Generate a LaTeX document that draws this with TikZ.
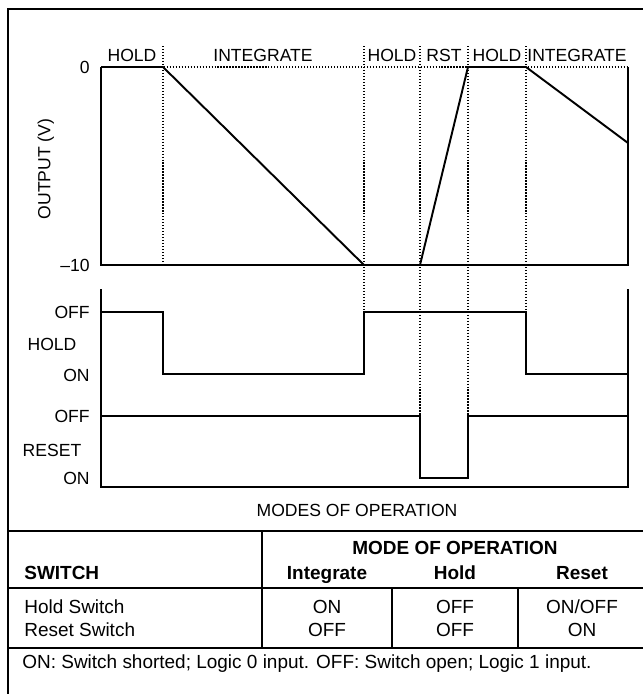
\documentclass[tikz,border=0pt]{standalone}
\usepackage{fontspec}
\setmainfont{Liberation Sans}
\usetikzlibrary{positioning}

\begin{document}
\begin{tikzpicture}[
    x=0.02cm, y=-0.02cm,
    font=\fontsize{10}{12}\selectfont,
    frame/.style={line width=1.3pt},
    axis/.style={line width=0.6pt},
    wave/.style={line width=1.1pt, line join=miter},
    guide/.style={densely dotted, line width=0.7pt},
    txt/.style={inner sep=0pt, text height=7.2pt, text depth=0pt},
    cell/.style={txt, font=\fontsize{10.8}{13}\selectfont},
    head/.style={txt, font=\fontsize{10.8}{13}\selectfont\bfseries}
]
\useasboundingbox (0,0) rectangle (643,694);

\draw[frame] (8,694) -- (8,9) -- (643,9);

\draw[guide] (101,67) -- (628,67);
\foreach \x/\ylow in {163/265, 364/312, 420/416, 468/416, 526/312}
    \draw[guide] (\x,46) -- (\x,\ylow);

\draw[axis] (101,67) -- (101,265) -- (628,265) -- (628,67);
\draw[axis] (101,289) -- (101,487) -- (628,487) -- (628,289);

\draw[wave] (101,67) -- (163,67) -- (364,265) -- (420,265) -- (468,67) -- (526,67) -- (628,143);
\draw[wave] (101,312) -- (163,312) -- (163,374) -- (364,374) -- (364,312) -- (526,312) -- (526,374) -- (628,374);
\draw[wave] (101,416) -- (420,416) -- (420,478) -- (468,478) -- (468,416) -- (628,416);

\node[txt] (hold1) at (132,55) {HOLD};
\node[txt] (integ1) at (263,55) {INTEGRATE};
\node[txt] (hold2) at (392,55) {HOLD};
\node[txt] (rst) at (444,55) {RST};
\node[txt] (hold3) at (497,55) {HOLD};
\node[txt] (integ2) at (577,55) {INTEGRATE};

\node[txt, anchor=east] (zero) at (90,67) {0};
\node[txt, anchor=east] (minten) at (90,265) {--10};
\node[txt, rotate=90] (ylabel) at (44,169) {OUTPUT (V)};

\node[txt, anchor=east] (holdoff) at (90,312) {OFF};
\node[txt] (holdname) at (52,344) {HOLD};
\node[txt, anchor=east] (holdon) at (90,375) {ON};
\node[txt, anchor=east] (rstoff) at (90,416) {OFF};
\node[txt] (rstname) at (52,450) {RESET};
\node[txt, anchor=east] (rston) at (90,478) {ON};
\node[txt] (modes) at (357,510) {MODES OF OPERATION};

\draw[frame] (8,531) -- (643,531);
\draw[axis] (8,588) -- (643,588);
\draw[frame] (8,648) -- (643,648);
\draw[axis] (262,531) -- (262,648);
\draw[axis] (392,588) -- (392,648);
\draw[axis] (518,588) -- (518,648);

\node[head] (modehead) at (455,548) {MODE OF OPERATION};
\node[head, anchor=west] (switch) at (24,573) {SWITCH};
\node[head] (colint) at (327,573) {Integrate};
\node[head] (colhold) at (455,573) {Hold};
\node[head] (colrst) at (582,573) {Reset};

\node[cell, anchor=west] (holdsw) at (24,607) {Hold Switch};
\node[cell, anchor=west] (rstsw) at (24,630) {Reset Switch};
\node[cell] (hi) at (327,607) {ON};
\node[cell] (hh) at (455,607) {OFF};
\node[cell] (hr) at (582,607) {ON/OFF};
\node[cell] (ri) at (327,630) {OFF};
\node[cell] (rh) at (455,630) {OFF};
\node[cell] (rr) at (582,630) {ON};

\node[cell, anchor=west] (note) at (22,662) {ON: Switch shorted; Logic 0 input. OFF: Switch open; Logic 1 input.};
\end{tikzpicture}
\end{document}
